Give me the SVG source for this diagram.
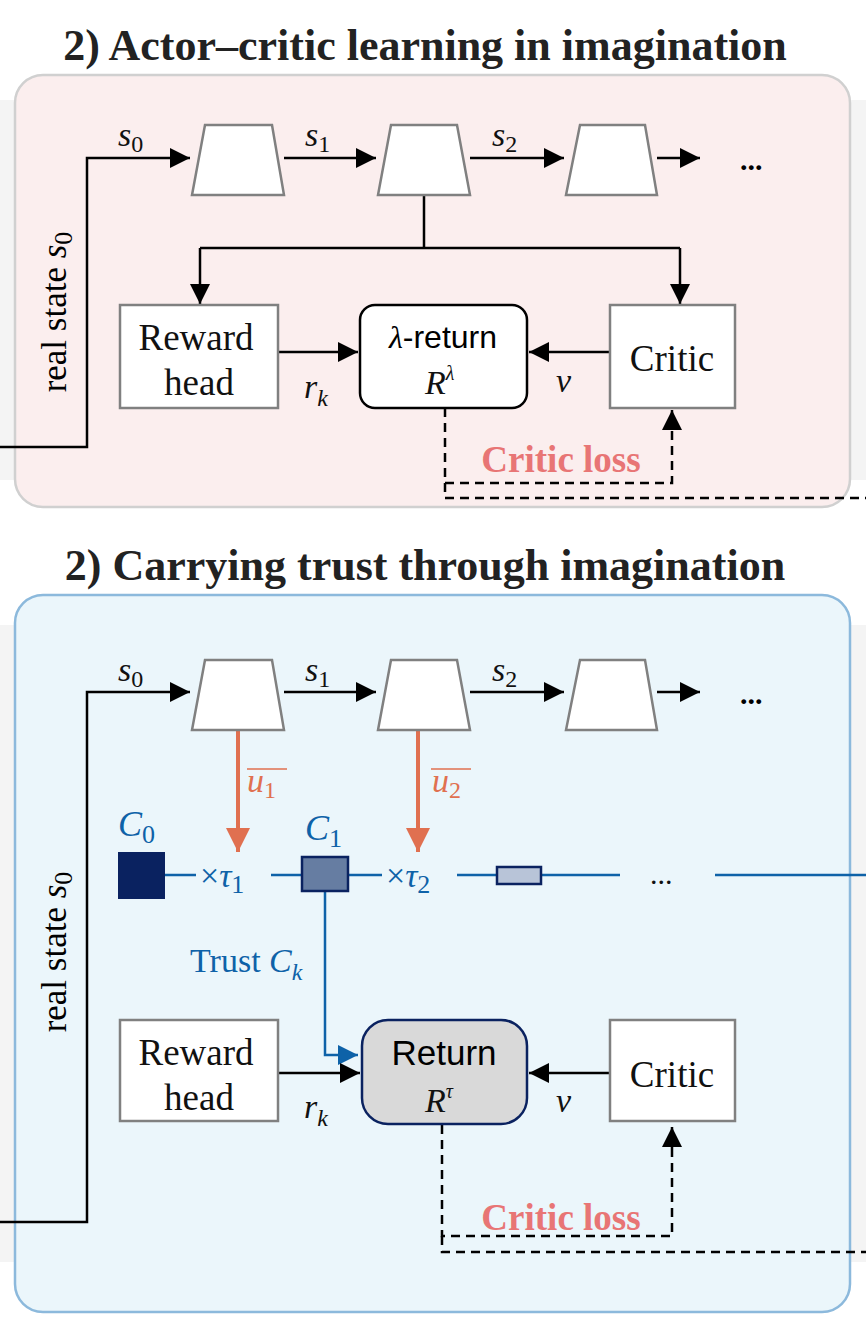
<svg xmlns="http://www.w3.org/2000/svg" width="866" height="1340" viewBox="0 0 866 1340">
<defs>
<marker id="abig" viewBox="0 0 10 10" refX="10" refY="5" markerWidth="20" markerHeight="20" orient="auto" markerUnits="userSpaceOnUse"><path d="M0,0 L10,5 L0,10 z" fill="#000"/></marker>
<marker id="ao" viewBox="0 0 10 10" refX="10" refY="5" markerWidth="24" markerHeight="24" orient="auto" markerUnits="userSpaceOnUse"><path d="M0,0 L10,5 L0,10 z" fill="#e07050"/></marker>
<marker id="abl" viewBox="0 0 10 10" refX="10" refY="5" markerWidth="20" markerHeight="20" orient="auto" markerUnits="userSpaceOnUse"><path d="M0,0 L10,5 L0,10 z" fill="#0e62a8"/></marker>
</defs>
<style>
text{font-family:"Liberation Serif",serif}
text.sans{font-family:"Liberation Sans",sans-serif}
.title{font-weight:bold;font-size:44px;fill:#222;text-anchor:middle}
.trap{fill:#fff;stroke:#808080;stroke-width:2.5}
.box{fill:#fff;stroke:#808080;stroke-width:2.5}
.lbl{font-size:37px;fill:#111;text-anchor:middle}
.m{font-style:italic;font-size:34px;fill:#111}
.ln{fill:none;stroke:#000;stroke-width:2.5}
.dash{fill:none;stroke:#000;stroke-width:2.5;stroke-dasharray:9 6}
.loss{font-weight:bold;font-size:37px;fill:#e87575;text-anchor:middle}
.blue{fill:none;stroke:#0e62a8;stroke-width:2.5}
.bt{font-size:34px;fill:#0e62a8}
</style>
<rect x="0" y="100" width="866" height="380" fill="#f4f4f4"/>
<rect x="0" y="625" width="866" height="637" fill="#f4f4f4"/>
<rect x="15" y="75" width="835" height="432" rx="28" fill="#fbeeee" stroke="#d0d0d0" stroke-width="2.5"/>
<rect x="15" y="595" width="835" height="717" rx="28" fill="#ebf6fb" stroke="#8cb9dc" stroke-width="2.5"/>
<text class="title" x="425" y="60">2) Actor–critic learning in imagination</text>
<text class="title" x="425" y="580">2) Carrying trust through imagination</text>

<g id="connectors">
<path class="ln" d="M0,447 H87 V158 H190" marker-end="url(#abig)"/>
<path class="ln" d="M284,158 H376" marker-end="url(#abig)"/>
<path class="ln" d="M470,158 H564" marker-end="url(#abig)"/>
<path class="ln" d="M657,158 H700" marker-end="url(#abig)"/>
<path class="ln" d="M424,195 V248 M200,248 H680"/>
<path class="ln" d="M200,248 V304" marker-end="url(#abig)"/>
<path class="ln" d="M680,248 V304" marker-end="url(#abig)"/>
<path class="ln" d="M278,352 H358" marker-end="url(#abig)"/>
<path class="ln" d="M610,352 H529" marker-end="url(#abig)"/>
<path class="dash" d="M445,408 V483 H672 V430"/>
<path class="ln" d="M672,430 V410" marker-end="url(#abig)"/>
<path class="dash" d="M445,483 V498 H866"/>

<path class="ln" d="M0,1222 H87 V692 H190" marker-end="url(#abig)"/>
<path class="ln" d="M284,692 H376" marker-end="url(#abig)"/>
<path class="ln" d="M470,692 H564" marker-end="url(#abig)"/>
<path class="ln" d="M657,692 H700" marker-end="url(#abig)"/>
<path d="M238,730 V852" stroke="#e07050" stroke-width="4" fill="none" marker-end="url(#ao)"/>
<path d="M418,730 V852" stroke="#e07050" stroke-width="4" fill="none" marker-end="url(#ao)"/>
<path class="blue" d="M165,875 H196 M271,875 H302 M348,875 H382 M457,875 H497 M541,875 H620 M715,875 H866"/>
<path class="blue" d="M325,890 V1055 H358" marker-end="url(#abl)"/>
<path class="ln" d="M278,1073 H360" marker-end="url(#abig)"/>
<path class="ln" d="M610,1073 H529" marker-end="url(#abig)"/>
<path class="dash" d="M442,1125 V1236 H672 V1150"/>
<path class="ln" d="M672,1150 V1127" marker-end="url(#abig)"/>
<path class="dash" d="M442,1236 V1252 H866"/>
</g>

<g id="top-labels">
<text class="m" x="118" y="146">s<tspan font-style="normal" font-size="24" dy="6">0</tspan></text>
<text class="m" x="305" y="146">s<tspan font-style="normal" font-size="24" dy="6">1</tspan></text>
<text class="m" x="492" y="146">s<tspan font-style="normal" font-size="24" dy="6">2</tspan></text>
<text x="740" y="170" font-size="30" font-weight="bold">...</text>
<text transform="translate(66,312) rotate(-90)" font-size="35" text-anchor="middle">real state <tspan font-style="italic">s</tspan><tspan font-size="26" dy="6">0</tspan></text>
<text class="m" x="304" y="398">r<tspan font-size="24" dy="8">k</tspan></text>
<text class="m" x="556" y="392">v</text>
<text class="loss" x="561" y="472">Critic loss</text>
</g>
<g id="trap1"><polygon class="trap" points="205,125 272,125 284,195 192,195"/></g>
<g id="trap2"><polygon class="trap" points="391,125 457,125 470,195 378,195"/></g>
<g id="trap3"><polygon class="trap" points="580,125 645,125 657,195 566,195"/></g>
<g id="reward1"><rect class="box" x="120" y="305" width="158" height="103"/><text class="lbl" x="196" y="350">Reward</text><text class="lbl" x="199" y="395">head</text></g>
<g id="lret"><rect x="360" y="305" width="167" height="103" rx="15" fill="#fff" stroke="#000" stroke-width="2.5"/><text class="sans" x="443" y="348" font-size="32" text-anchor="middle"><tspan font-family="Liberation Serif,serif" font-style="italic">λ</tspan>-return</text><text class="m" x="425" y="394">R<tspan font-size="20" dy="-14">λ</tspan></text></g>
<g id="critic1"><rect class="box" x="610" y="305" width="125" height="103"/><text class="lbl" x="672" y="371">Critic</text></g>

<g id="bottom-labels">
<text class="m" x="118" y="681">s<tspan font-style="normal" font-size="24" dy="6">0</tspan></text>
<text class="m" x="305" y="681">s<tspan font-style="normal" font-size="24" dy="6">1</tspan></text>
<text class="m" x="492" y="681">s<tspan font-style="normal" font-size="24" dy="6">2</tspan></text>
<text x="740" y="704" font-size="30" font-weight="bold">...</text>
<text transform="translate(66,952) rotate(-90)" font-size="35" text-anchor="middle">real state <tspan font-style="italic">s</tspan><tspan font-size="26" dy="6">0</tspan></text>
<text x="247" y="792" font-style="italic" font-size="34" fill="#e07050">u<tspan font-style="normal" font-size="24" dy="6">1</tspan></text>
<path d="M247,769 H287" stroke="#e07050" stroke-width="1.5"/>
<text x="432" y="792" font-style="italic" font-size="34" fill="#e07050">u<tspan font-style="normal" font-size="24" dy="6">2</tspan></text>
<path d="M431,769 H471" stroke="#e07050" stroke-width="1.5"/>
<text class="bt" x="118" y="836"><tspan font-style="italic" font-size="36">C</tspan><tspan font-size="26" dy="7">0</tspan></text>
<text class="bt" x="305" y="840"><tspan font-style="italic" font-size="36">C</tspan><tspan font-size="26" dy="7">1</tspan></text>
<text class="bt" x="200" y="887">×<tspan font-style="italic">τ</tspan><tspan font-size="26" dy="6">1</tspan></text>
<text class="bt" x="386" y="887">×<tspan font-style="italic">τ</tspan><tspan font-size="26" dy="6">2</tspan></text>
<text x="650" y="884" font-size="30" fill="#111">...</text>
<text class="bt" x="190" y="972">Trust <tspan font-style="italic">C</tspan><tspan font-style="italic" font-size="24" dy="8">k</tspan></text>
<text class="m" x="304" y="1118">r<tspan font-size="24" dy="8">k</tspan></text>
<text class="m" x="556" y="1112">v</text>
<text class="loss" x="561" y="1230">Critic loss</text>
</g>
<g id="trap4"><polygon class="trap" points="205,660 272,660 284,730 192,730"/></g>
<g id="trap5"><polygon class="trap" points="391,660 457,660 470,730 378,730"/></g>
<g id="trap6"><polygon class="trap" points="580,660 645,660 657,730 566,730"/></g>
<g id="c0"><rect x="118" y="852" width="47" height="47" fill="#0a2260"/></g>
<g id="c1"><rect x="302" y="857" width="46" height="34" fill="#667da2" stroke="#0a2260" stroke-width="2.5"/></g>
<g id="c2"><rect x="497" y="867" width="44" height="17" fill="#b8c4d8" stroke="#0a2260" stroke-width="2.5"/></g>
<g id="reward2"><rect class="box" x="120" y="1020" width="158" height="101"/><text class="lbl" x="196" y="1065">Reward</text><text class="lbl" x="199" y="1110">head</text></g>
<g id="ret"><rect x="362" y="1020" width="165" height="104" rx="26" fill="#d9d9d9" stroke="#0a2260" stroke-width="2.5"/><text class="sans" x="444" y="1065" font-size="35" text-anchor="middle">Return</text><text class="m" x="425" y="1112">R<tspan font-size="20" dy="-14">τ</tspan></text></g>
<g id="critic2"><rect class="box" x="610" y="1020" width="125" height="101"/><text class="lbl" x="672" y="1087">Critic</text></g>
</svg>
